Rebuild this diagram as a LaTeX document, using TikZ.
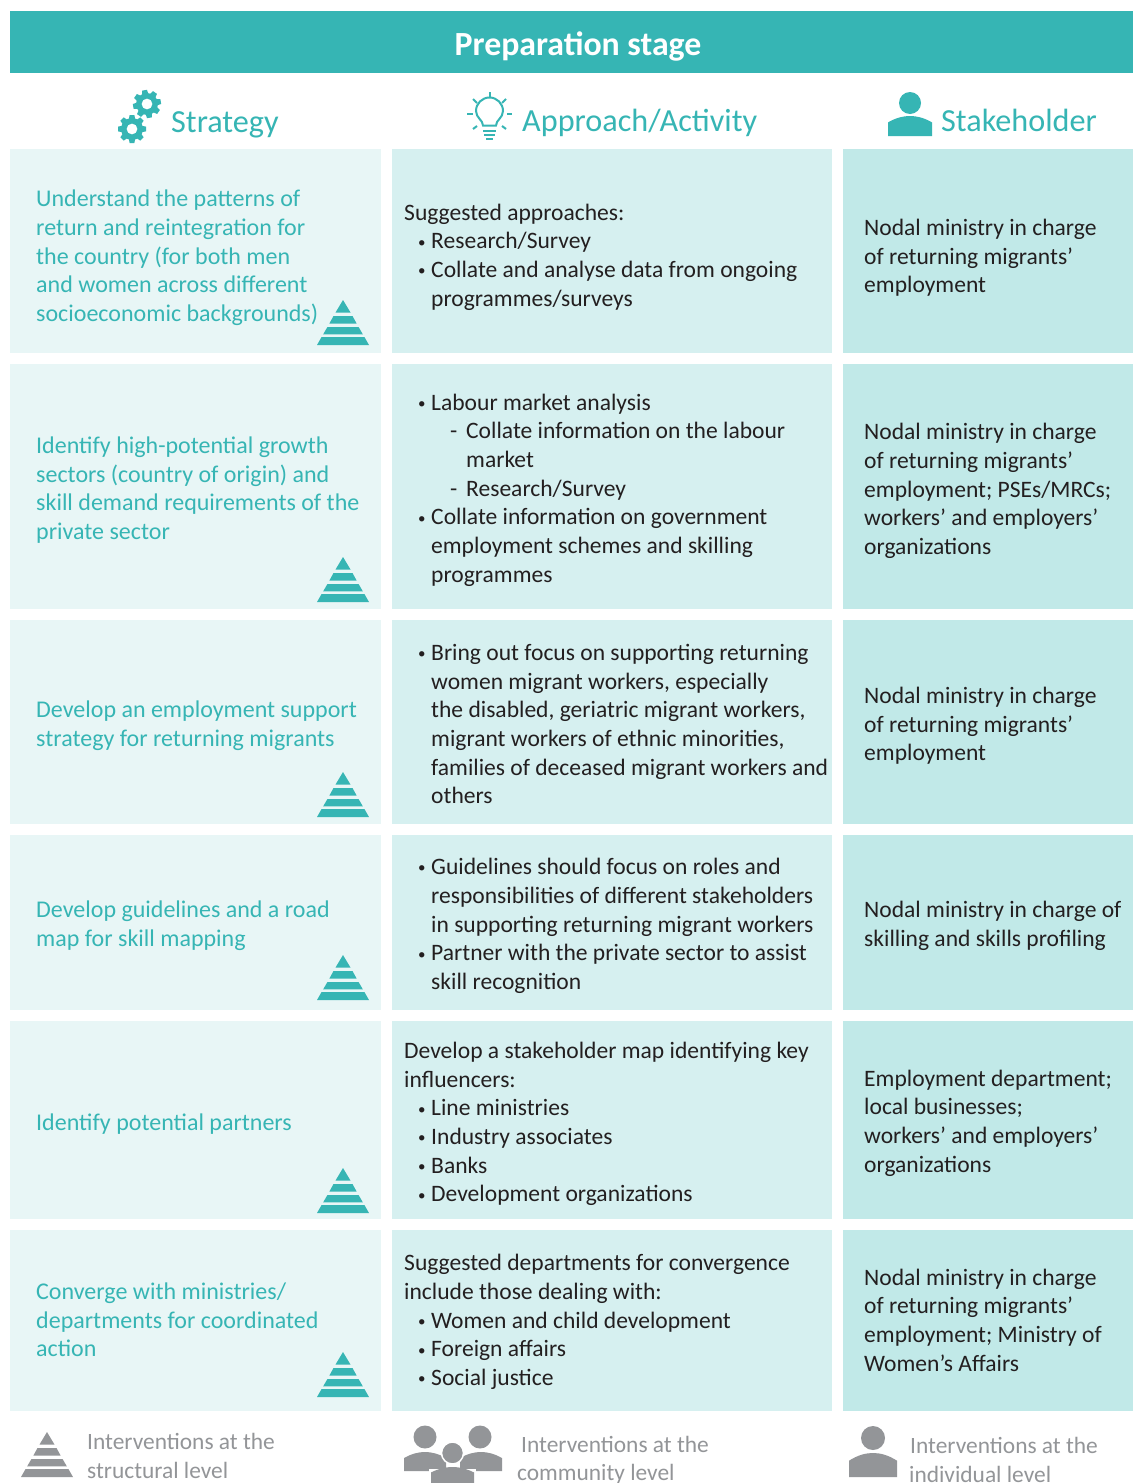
\documentclass[tikz,border=0pt]{standalone}
\usepackage{fontspec}
\setmainfont{Carlito}
\definecolor{teal}{HTML}{36B5B4}
\definecolor{cA}{HTML}{E8F6F6}
\definecolor{cB}{HTML}{D6F0F0}
\definecolor{cC}{HTML}{C1E9E8}
\definecolor{gr}{HTML}{939598}
\definecolor{txt}{HTML}{231F20}
\newcommand{\bl}[1]{\hspace*{12pt}\makebox[15pt][l]{\hspace{2pt}\raisebox{1.8pt}{\fontsize{15}{15}\selectfont •}}#1}
\newcommand{\cn}[1]{\hspace*{27pt}#1}
\newcommand{\ds}[1]{\hspace*{46pt}\makebox[16pt][l]{-}#1}
\newcommand{\dc}[1]{\hspace*{62pt}#1}
\newcommand{\pyramid}[3]{% cx, bottom y, colour
 \begin{scope}[shift={(#1,#2)}]
 \fill[#3] (0,-45)--(7.5,-32.5)--(-7.5,-32.5)--cycle;
 \fill[#3] (-9.5,-29)--(9.5,-29)--(13.6,-21.5)--(-13.6,-21.5)--cycle;
 \fill[#3] (-15.6,-18)--(15.6,-18)--(19.8,-10.7)--(-19.8,-10.7)--cycle;
 \fill[#3] (-21.4,-8)--(21.4,-8)--(26,0)--(-26,0)--cycle;
 \end{scope}}
\newcommand{\gear}[3]{% cx, cy, name
 \begin{scope}[shift={(#1,#2)}]
 \fill[teal,even odd rule] (0,0) circle[radius=5.5] (0,0) circle[radius=11];
 \foreach \a in {0,45,...,315}
  \fill[teal,rotate=\a+#3] (-3.2,-9.5)--(-2.4,-14)--(2.4,-14)--(3.2,-9.5)--cycle;
 \end{scope}}
\newcommand{\bust}[5]{% cx, top y, half width, bottom y, colour
 \begin{scope}[shift={(#1,#2)},yscale=#4/100-#2/100]
 \fill[#5] (-#3,100) -- (-#3,32) .. controls ({-#3*0.62},8) and ({-#3*0.3},0) .. (0,0) .. controls ({#3*0.3},0) and ({#3*0.62},8) .. (#3,32) -- (#3,100) -- cycle;
 \end{scope}}
\tikzset{
 band/.style={fill=#1,draw=none,inner sep=0pt,anchor=north west},
 body/.style={anchor=west,inner sep=0pt,align=left,font=\fontsize{23.55}{28.7}\selectfont,text=txt},
 strat/.style={body,font=\fontsize{24}{28.7}\selectfont,text=teal},
 head/.style={anchor=west,inner sep=0pt,font=\fontsize{32.2}{36}\selectfont,text=teal},
 leg/.style={body,font=\fontsize{23.4}{28.4}\selectfont,text=gr},
}
\begin{document}
\begin{tikzpicture}[x=1pt,y=-1pt]
\useasboundingbox (0,0) rectangle (1133,1483);
\fill[white] (0,0) rectangle (1133,1483);
\node[band=teal,minimum width=1123pt,minimum height=62pt] (banner) at (10,11) {};
\node[inner sep=0pt,text=white,font=\fontsize{33.8}{36}\selectfont\bfseries] (title) at (578,46) {Preparation stage};
% cells
\foreach \n/\t/\b in {1/149/353,2/364/609,3/620/824,4/835/1010,5/1021/1219,6/1230/1411}{
 \fill[cA] (10,\t) rectangle (381,\b);
 \fill[cB] (392,\t) rectangle (832,\b);
 \fill[cC] (843,\t) rectangle (1133,\b);
}
% column heads
\gear{147}{104}{10}
\gear{132}{129}{0}
\node[head] (hs) at (171,125) {Strategy};
\begin{scope}[teal,line width=2pt]
 \draw (483,125.5) .. controls (483,120) and (476,118) .. (476,111) arc[start angle=180,end angle=360,radius=13.5] .. controls (503,118) and (496,120) .. (496,125.5) -- cycle;
 \draw (489.5,92)--(489.5,98);
 \draw (467,114)--(473,114);
 \draw (507,114)--(512,114);
 \draw (473,99)--(477,103);
 \draw (506,99)--(502,103);
 \draw (473,129)--(477,126);
 \draw (506,129)--(502,126);
 \draw (483,130.5)--(496,130.5);
 \draw (484,134.5)--(495,134.5);
 \draw (486,138.5)--(493,138.5);
\end{scope}
\node[head] (ha) at (522,123) {Approach/Activity};
\fill[teal] (910,103) circle[radius=11];
\bust{910}{116}{22}{136}{teal}
\node[head] (hk) at (941,120) {Stakeholder};
% strategy
\node[strat] (s1) at (36,258) {Understand the patterns of\\return and reintegration for\\the country (for both men\\and women across different\\socioeconomic backgrounds)};
\node[strat] (s2) at (36,490) {Identify high-potential growth\\sectors (country of origin) and\\skill demand requirements of the\\private sector};
\node[strat] (s3) at (36,726) {Develop an employment support\\strategy for returning migrants};
\node[strat] (s4) at (36,926) {Develop guidelines and a road\\map for skill mapping};
\node[strat] (s5) at (36,1124) {Identify potential partners};
\node[strat] (s6) at (36,1320) {Converge with ministries/\\departments for coordinated\\action};
\pyramid{343}{345}{teal}
\pyramid{343}{602}{teal}
\pyramid{343}{817}{teal}
\pyramid{343}{1000}{teal}
\pyramid{343}{1213}{teal}
\pyramid{343}{1397}{teal}
% approach
\node[body] (a1) at (404,257) {Suggested approaches:\\\bl{Research/Survey}\\\bl{Collate and analyse data from ongoing}\\\cn{programmes/surveys}};
\node[body] (a2) at (404,490) {\bl{Labour market analysis}\\\ds{Collate information on the labour}\\\dc{market}\\\ds{Research/Survey}\\\bl{Collate information on government}\\\cn{employment schemes and skilling}\\\cn{programmes}};
\node[body] (a3) at (404,724) {\bl{Bring out focus on supporting returning}\\\cn{women migrant workers, especially}\\\cn{the disabled, geriatric migrant workers,}\\\cn{migrant workers of ethnic minorities,}\\\cn{families of deceased migrant workers and}\\\cn{others}};
\node[body] (a4) at (404,926) {\bl{Guidelines should focus on roles and}\\\cn{responsibilities of different stakeholders}\\\cn{in supporting returning migrant workers}\\\bl{Partner with the private sector to assist}\\\cn{skill recognition}};
\node[body] (a5) at (404,1124) {Develop a stakeholder map identifying key\\influencers:\\\bl{Line ministries}\\\bl{Industry associates}\\\bl{Banks}\\\bl{Development organizations}};
\node[body] (a6) at (404,1322) {Suggested departments for convergence\\include those dealing with:\\\bl{Women and child development}\\\bl{Foreign affairs}\\\bl{Social justice}};
% stakeholder
\node[body] (k1) at (864,258) {Nodal ministry in charge\\of returning migrants’\\employment};
\node[body] (k2) at (864,491) {Nodal ministry in charge\\of returning migrants’\\employment; PSEs/MRCs;\\workers’ and employers’\\organizations};
\node[body] (k3) at (864,726) {Nodal ministry in charge\\of returning migrants’\\employment};
\node[body] (k4) at (864,926) {Nodal ministry in charge of\\skilling and skills profiling};
\node[body] (k5) at (864,1123) {Employment department;\\local businesses;\\workers’ and employers’\\organizations};
\node[body] (k6) at (864,1320) {Nodal ministry in charge\\of returning migrants’\\employment; Ministry of\\Women’s Affairs};
% legend
\pyramid{47}{1477}{gr}
\node[leg] (l1) at (87,1456) {Interventions at the\\structural level};
\fill[gr] (425,1437) circle[radius=11.5];
\fill[gr] (480,1437) circle[radius=11.5];
\bust{425}{1452}{21}{1471}{gr}
\bust{481}{1452}{21}{1471}{gr}
\fill[gr,draw=white,line width=1.5pt] (452.5,1453) circle[radius=11];
\fill[white] (429,1469) rectangle (476,1483);
\bust{452.5}{1467}{21.5}{1484}{gr}
\node[leg] (l2) at (517,1460) {\hspace*{4pt}Interventions at the\\community level};
\fill[gr] (873,1438) circle[radius=12];
\bust{873}{1453}{24}{1477}{gr}
\node[leg] (l3) at (909,1460) {\hspace*{1pt}Interventions at the\\individual level};
\end{tikzpicture}
\end{document}
